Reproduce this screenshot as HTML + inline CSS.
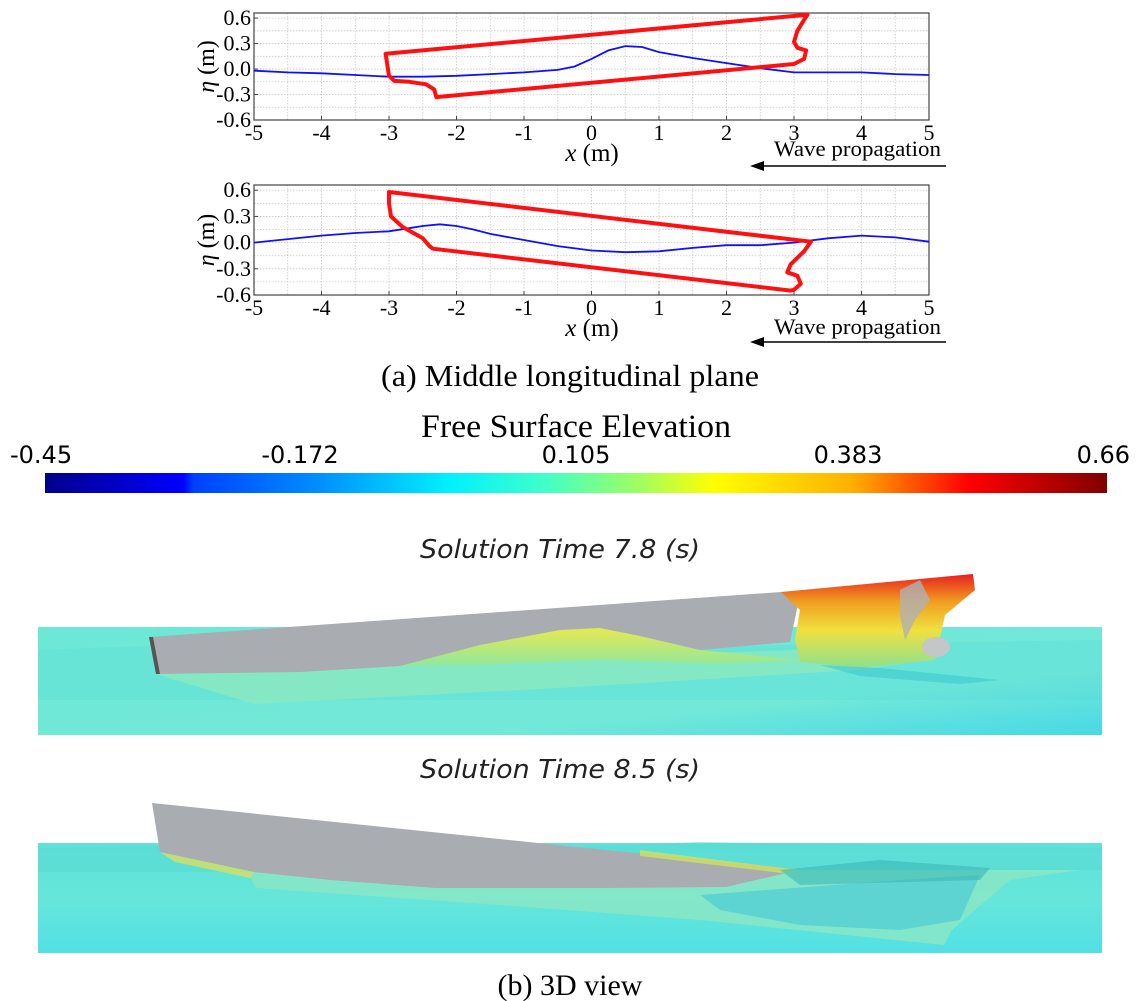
<!DOCTYPE html>
<html><head><meta charset="utf-8">
<style>
html,body{margin:0;padding:0;background:#fff;}
body{width:1139px;height:1001px;position:relative;overflow:hidden;}
svg{position:absolute;left:0;top:0;}
.serif{font-family:"Liberation Serif",serif;}
.sans{font-family:"DejaVu Sans","Liberation Sans",sans-serif;}
</style></head>
<body>
<svg id="fig" width="1139" height="1001" viewBox="0 0 1139 1001">
<defs>
<linearGradient id="cbar" x1="0" x2="1" y1="0" y2="0">
<stop offset="0" stop-color="#00008b"/><stop offset="0.13" stop-color="#0000ff"/>
<stop offset="0.14" stop-color="#0040ff"/><stop offset="0.26" stop-color="#0090ff"/>
<stop offset="0.38" stop-color="#00f0ff"/><stop offset="0.47" stop-color="#40ffc8"/>
<stop offset="0.56" stop-color="#a0ff60"/><stop offset="0.63" stop-color="#ffff00"/>
<stop offset="0.76" stop-color="#ffb000"/><stop offset="0.87" stop-color="#ff0000"/>
<stop offset="1" stop-color="#800000"/></linearGradient>
<linearGradient id="water1" x1="0" x2="1" y1="0" y2="1">
<stop offset="0" stop-color="#6ee8d6"/><stop offset="0.7" stop-color="#72e8d8"/><stop offset="1" stop-color="#48d8e6"/></linearGradient>
<linearGradient id="water2" x1="0" x2="0" y1="0" y2="1">
<stop offset="0" stop-color="#5ee2dc"/><stop offset="0.5" stop-color="#66e6da"/><stop offset="1" stop-color="#52e0e4"/></linearGradient>
<linearGradient id="bow1" x1="0" x2="0" y1="0" y2="1">
<stop offset="0" stop-color="#e82020"/><stop offset="0.3" stop-color="#f0a020"/><stop offset="0.6" stop-color="#f0e040"/><stop offset="1" stop-color="#8ee090"/></linearGradient>
<linearGradient id="crest1" x1="0" x2="0" y1="0" y2="1">
<stop offset="0" stop-color="#e8e850"/><stop offset="1" stop-color="#90e8a0"/></linearGradient>
</defs>

<g id="chart1"></g>
<g id="chart2"></g>

<text x="570" y="386" text-anchor="middle" class="serif" font-size="31" textLength="378" lengthAdjust="spacingAndGlyphs">(a) Middle longitudinal plane</text>

<text x="576" y="437" text-anchor="middle" class="serif" font-size="33" textLength="310" lengthAdjust="spacingAndGlyphs">Free Surface Elevation</text>
<g class="sans" font-size="24">
<text x="10" y="463">-0.45</text>
<text x="300" y="463" text-anchor="middle">-0.172</text>
<text x="576" y="463" text-anchor="middle">0.105</text>
<text x="848" y="463" text-anchor="middle">0.383</text>
<text x="1130" y="463" text-anchor="end">0.66</text>
</g>
<rect x="45" y="473" width="1062" height="20" fill="url(#cbar)"/>

<text x="560" y="558" text-anchor="middle" class="sans" font-style="italic" font-size="26" fill="#222" textLength="280" lengthAdjust="spacingAndGlyphs">Solution Time 7.8 (s)</text>

<g>
<rect x="38" y="627" width="1064" height="108" fill="url(#water1)"/>
<polygon points="38,650 300,640 600,648 1102,640 1102,700 38,700" fill="#4ed8d8" opacity="0.25"/>
<polygon points="156,674 254,704 560,688 857,670 930,660 800,650 400,662" fill="#8ce8c0" opacity="0.8"/>
<polygon points="149,637 781,592 800,595 790,642 700,650 620,640 560,646 470,656 400,666 300,672 156,674" fill="#a9acb0"/>
<polygon points="149,637 156,674 160,674 153,637" fill="#555"/>
<polygon points="400,666 480,645 560,630 600,628 640,636 700,650 800,660 720,664 600,660 480,665" fill="url(#crest1)"/>
<polygon points="781,592 973,574 975,590 945,615 935,660 860,668 800,662 795,640 800,610" fill="url(#bow1)"/>
<polygon points="900,590 920,580 930,600 915,620 905,640 900,615" fill="#b0b2b4" opacity="0.8"/>
<ellipse cx="936" cy="647" rx="14" ry="10" fill="#c4c6c8"/>
<polygon points="820,665 880,668 1000,680 960,684 860,676" fill="#40c8d0" opacity="0.6"/>
</g>

<text x="560" y="778" text-anchor="middle" class="sans" font-style="italic" font-size="26" fill="#222" textLength="280" lengthAdjust="spacingAndGlyphs">Solution Time 8.5 (s)</text>

<g>
<rect x="38" y="843" width="1064" height="110" fill="url(#water2)"/>
<polygon points="38,848 200,845 500,850 700,842 900,845 1102,848 1102,870 38,872" fill="#58d8d0" opacity="0.5"/>
<polygon points="248,872 256,888 500,905 700,920 944,945 952,930 1010,880 1080,870 800,870" fill="#8ae6c6" opacity="0.85"/>
<polygon points="700,895 900,880 980,875 960,920 900,930 800,925 720,910" fill="#40c4d8" opacity="0.55"/>
<polygon points="152,803 799,870 726,887 600,888 436,888 330,880 254,872 190,860 160,852" fill="#a9acb0"/>
<polygon points="160,852 254,872 250,878 175,862" fill="#c8e070" opacity="0.9"/>
<polygon points="640,850 799,870 790,874 640,856" fill="#d0e060" opacity="0.8"/>
<polygon points="780,870 880,860 990,868 980,880 800,885" fill="#3ab8b8" opacity="0.6"/>
</g>

<text x="570" y="995" text-anchor="middle" class="serif" font-size="30">(b) 3D view</text>
</svg>

<script>
var waveX1 = [-5,-4.5,-4,-3.5,-3,-2.5,-2,-1.5,-1,-0.5,-0.25,0,0.25,0.5,0.75,1,1.5,2,2.5,3,3.5,4,4.5,5];
var waveY1 = [-0.02,-0.04,-0.05,-0.07,-0.09,-0.09,-0.08,-0.06,-0.04,-0.01,0.03,0.12,0.22,0.27,0.26,0.2,0.13,0.07,0.01,-0.04,-0.04,-0.04,-0.06,-0.07];
var hullX1 = [-3.05,3.2,3.15,3.05,3.0,3.05,3.18,3.15,3.0,-2.3,-2.33,-2.45,-2.7,-2.92,-3.0,-3.05];
var hullY1 = [0.18,0.64,0.58,0.45,0.32,0.25,0.22,0.12,0.06,-0.33,-0.24,-0.18,-0.15,-0.14,-0.08,0.18];
var waveX2 = [-5,-4.5,-4,-3.5,-3,-2.75,-2.5,-2.25,-2,-1.75,-1.5,-1,-0.5,0,0.5,1,1.5,2,2.5,3,3.5,4,4.5,5];
var waveY2 = [0.0,0.04,0.08,0.11,0.13,0.16,0.19,0.21,0.19,0.15,0.1,0.03,-0.04,-0.09,-0.11,-0.1,-0.06,-0.03,-0.03,0.0,0.05,0.08,0.06,0.01];
var hullX2 = [-3.0,3.25,3.15,2.95,2.9,3.05,3.1,3.0,2.95,-2.35,-2.4,-2.5,-2.8,-2.97,-3.0,-3.0];
var hullY2 = [0.58,0.01,-0.1,-0.25,-0.34,-0.38,-0.47,-0.54,-0.55,-0.07,-0.04,0.05,0.18,0.3,0.45,0.58];
var xTicks = [-5,-4,-3,-2,-1,0,1,2,3,4,5];
var yTicks = [-0.6,-0.3,0.0,0.3,0.6];
var yTickLabels = ["-0.6","-0.3","0.0","0.3","0.6"];

var NS = "http://www.w3.org/2000/svg";
function mk(tag, attrs, parent){ var e=document.createElementNS(NS,tag); for(var k in attrs) e.setAttribute(k,attrs[k]); parent.appendChild(e); return e; }

function drawChart(g, cfg, wx, wy, hx, hy){
  var L=254,R=929,T=cfg.top,B=cfg.bottom;
  var yMin=-0.6,yMax=0.66;
  var sx=function(v){return L+(v+5)/10*(R-L);};
  var sy=function(v){return B-(v-yMin)/(yMax-yMin)*(B-T);};
  for(var v=-5; v<=5.001; v+=0.5){
    var gl=mk("line",{x1:sx(v),x2:sx(v),y1:T,y2:B,stroke:"#c8c8c8","stroke-width":0.8,"stroke-dasharray":"1.5,1.5"},g);
    
    
  }
  for(var v2=-0.6; v2<=0.61; v2+=0.15){
    var hl=mk("line",{x1:L,x2:R,y1:sy(v2),y2:sy(v2),stroke:"#c8c8c8","stroke-width":0.8,"stroke-dasharray":"1.5,1.5"},g);
    
    
  }
  var box=mk("rect",{x:L,y:T,width:R-L,height:B-T,fill:"none",stroke:"#444","stroke-width":1.2},g);
  
  
  xTicks.forEach(function(t){
    var tk=mk("line",{x1:sx(t),x2:sx(t),y1:B,y2:B-4,stroke:"#444"},g);
    
    
    var tx=mk("text",{x:sx(t),y:cfg.xl,"text-anchor":"middle","font-size":22,"class":"serif"},g);
    tx.textContent=String(t);
    
    
  });
  yTicks.forEach(function(t,i){
    var tk=mk("line",{x1:L,x2:L+4,y1:sy(t),y2:sy(t),stroke:"#444"},g);
    
    
    var tx=mk("text",{x:L-3,y:sy(t)+7,"text-anchor":"end","font-size":22,"class":"serif"},g);
    tx.textContent=yTickLabels[i];
    
    
  });
  var cy=(T+B)/2;
  var yt=mk("text",{x:0,y:0,"font-size":24,"class":"serif","text-anchor":"middle",transform:"translate(214,"+cy+") rotate(-90)"},g);
  yt.innerHTML='<tspan font-style="italic">η</tspan> (m)';
  
  
  var xt=mk("text",{x:592,y:cfg.xt,"font-size":25,"class":"serif","text-anchor":"middle"},g);
  xt.innerHTML='<tspan font-style="italic">x</tspan> (m)';
  
  
  var wp=mk("text",{x:941,y:cfg.wp,"font-size":22,"class":"serif","text-anchor":"end",textLength:167,lengthAdjust:"spacingAndGlyphs"},g);
  wp.textContent="Wave propagation";
  
  
  var ar=mk("line",{x1:946,x2:762,y1:cfg.ar,y2:cfg.ar,stroke:"#000","stroke-width":1.5},g);
  
  
  var ah=mk("polygon",{points:"750,"+cfg.ar+" 764,"+(cfg.ar-5)+" 764,"+(cfg.ar+5),fill:"#000"},g);
  
  
  var d=wx.map(function(x,i){return (i?"L":"M")+sx(x).toFixed(1)+","+sy(wy[i]).toFixed(1);}).join(" ");
  var wl=mk("path",{d:d,fill:"none",stroke:"#1010ff","stroke-width":1.8},g);
  
  
  var p=hx.map(function(x,i){return sx(x).toFixed(1)+","+sy(hy[i]).toFixed(1);}).join(" ");
  var hl2=mk("polygon",{points:p,fill:"none",stroke:"#ff1010","stroke-width":4,"stroke-linejoin":"round"},g);
  
  
}
drawChart(document.getElementById("chart1"),{top:13,bottom:120,xl:140,xt:161,wp:156,ar:166},waveX1,waveY1,hullX1,hullY1);
drawChart(document.getElementById("chart2"),{top:185,bottom:295,xl:315,xt:336,wp:334,ar:342},waveX2,waveY2,hullX2,hullY2);
</script>
</body></html>
